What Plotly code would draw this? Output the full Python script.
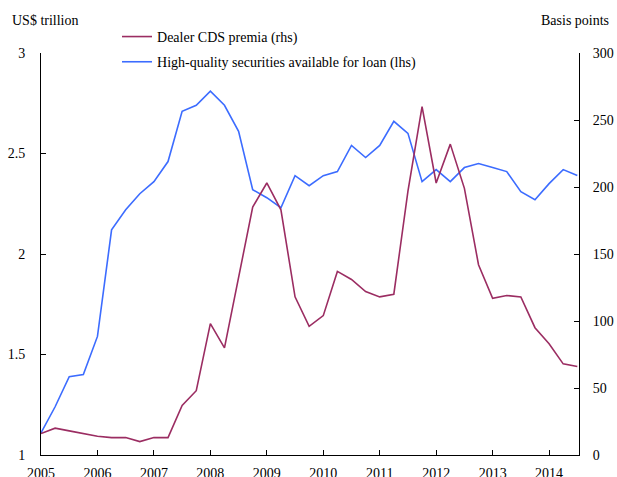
import plotly.graph_objects as go

# quarterly observations, 2005Q1 .. 2014Q3
quarters = [2005 + 0.25 * i for i in range(39)]

# High-quality securities available for loan (lhs, US$ trillion)
securities = [1.11, 1.24, 1.39, 1.40, 1.59, 2.12, 2.22, 2.30, 2.36, 2.46,
              2.71, 2.74, 2.81, 2.74, 2.61, 2.32, 2.28, 2.23, 2.39, 2.34,
              2.39, 2.41, 2.54, 2.48, 2.54, 2.66, 2.60, 2.36, 2.42, 2.36,
              2.43, 2.45, 2.43, 2.41, 2.31, 2.27, 2.35, 2.42, 2.39]

# Dealer CDS premia (rhs, basis points)
cds = [16, 20, 18, 16, 14, 13, 13, 10, 13, 13,
       37, 48, 98, 80, 132, 185, 203, 183, 118, 96,
       104, 137, 131, 122, 118, 120, 197, 260, 203, 232,
       199, 142, 117, 119, 118, 95, 83, 68, 66]

left_ticks = [1, 1.5, 2, 2.5, 3]
right_ticks = [0, 50, 100, 150, 200, 250, 300]
year_ticks = list(range(2005, 2015))

colors = {'cds': '#9b2d62', 'sec': '#3c6cff'}
font = dict(family='Liberation Serif', size=14, color='black')

fig = go.Figure()

fig.add_trace(go.Scatter(
    x=quarters, y=securities,
    name='High-quality securities available for loan (lhs)',
    mode='lines', line=dict(color=colors['sec'], width=1.6),
    legendgroup='sec', legendrank=2
))

fig.add_trace(go.Scatter(
    x=quarters, y=cds, yaxis='y2',
    name='Dealer CDS premia (rhs)',
    mode='lines', line=dict(color=colors['cds'], width=1.6),
    legendgroup='cds', legendrank=1
))

axis_common = dict(showgrid=False, zeroline=False, showline=True,
                   linecolor='black', linewidth=1, ticks='inside',
                   ticklen=5, tickcolor='black', tickfont=font)

fig.update_layout(
    width=617, height=477,
    margin=dict(l=41, r=38, t=53, b=22, autoexpand=False),
    paper_bgcolor='white', plot_bgcolor='white',
    font=font,
    xaxis=dict(range=[2005, 2014.53], tickvals=year_ticks,
               ticklabelstandoff=5, **axis_common),
    yaxis=dict(range=[1, 3], tickvals=left_ticks,
               ticktext=[str(t) for t in left_ticks],
               ticklabelstandoff=12, **axis_common),
    yaxis2=dict(range=[0, 300], tickvals=right_ticks, overlaying='y',
                side='right', ticklabelstandoff=10, **axis_common),
    legend=dict(x=0.1413, y=1.0797, xanchor='left', yanchor='top',
                tracegroupgap=4, bgcolor='rgba(0,0,0,0)', font=font),
    annotations=[
        dict(text='US$ trillion', xref='paper', yref='paper', x=-0.0576,
             y=1.082, xanchor='left', yanchor='middle', showarrow=False, font=font),
        dict(text='Basis points', xref='paper', yref='paper', x=1.0595,
             y=1.082, xanchor='right', yanchor='middle', showarrow=False, font=font),
    ],
)

# drop the default 8px body margin so the figure fills the window exactly
fig.write_html("out.html", config={'displayModeBar': False},
               post_script="document.body.style.margin = '0';")
